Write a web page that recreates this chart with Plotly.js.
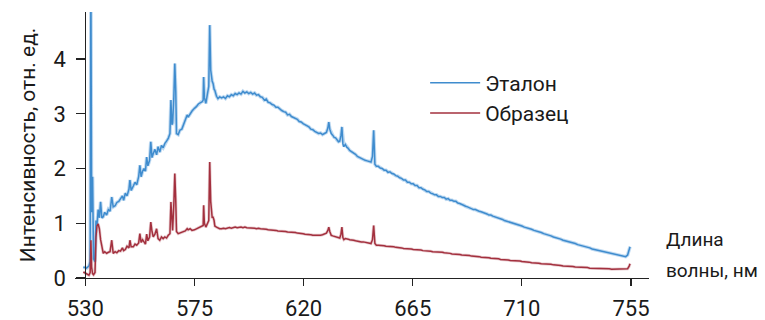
<!DOCTYPE html>
<html>
<head>
<meta charset="utf-8">
<script src="https://cdn.plot.ly/plotly-3.0.1.min.js"></script>
<style>html,body{margin:0;padding:0;background:#fff;}#chart{width:765px;height:320px;}</style>
</head>
<body>
<div id="chart"></div>
<script>
// Wavelength, nm
const wavelength = [
529.2,530.5,531.5,532.0,532.3,532.6,533.0,533.4,534.0,534.4,534.8,535.3,535.8,536.3,536.8,537.4,538.0,538.8,539.5,540.2,
540.9,541.5,542.3,543.0,543.8,544.5,545.3,545.8,546.5,547.2,548.0,548.4,548.9,549.8,550.5,551.2,552.0,552.5,553.0,553.6,
554.2,554.8,555.3,555.8,556.5,557.0,557.5,558.0,558.7,559.4,560.0,560.7,561.4,562.1,562.8,563.5,564.2,564.9,565.3,565.7,
566.0,566.5,566.9,567.3,567.6,568.3,569.0,569.8,570.5,571.2,572.0,572.4,573.2,574.0,575.0,575.8,576.6,577.4,578.2,578.6,
578.8,579.1,579.7,580.3,580.9,581.3,581.7,582.3,582.7,583.1,583.4,584.1,584.7,585.4,
586.2,587.0,587.8,588.6,589.4,590.2,591.0,591.8,592.6,593.4,
594.2,595.0,595.8,596.6,597.4,598.2,599.0,599.8,600.6,601.4,
602.2,603.0,603.8,604.6,605.4,606.2,607.0,607.8,608.6,609.4,
610.2,611.0,611.8,612.6,613.4,614.2,615.0,615.8,616.6,617.4,
618.2,619.0,619.8,620.6,621.4,622.2,623.0,623.8,624.6,625.4,
626.2,627.0,627.8,628.6,629.4,630.0,630.4,630.8,631.4,632.0,
632.6,633.2,633.8,634.4,634.9,635.4,635.8,636.2,636.6,637.2,
637.8,638.4,639.0,639.8,640.6,641.4,642.2,643.0,643.8,644.6,
645.4,646.2,647.0,647.8,648.4,648.9,649.4,650.0,650.8,651.6,
652.4,653.2,654.0,654.8,655.6,656.4,657.2,658.0,658.8,659.6,
660.4,661.2,662.0,662.8,663.6,664.4,665.2,666.0,666.8,667.6,
668.4,669.2,670.0,670.8,671.6,672.4,673.2,674.0,674.8,675.6,
676.4,677.2,678.0,678.8,679.6,680.4,681.2,682.0,682.8,683.6,
684.4,685.2,686.0,686.8,687.6,688.4,689.2,690.0,690.8,691.6,
692.4,693.2,694.0,694.8,695.6,696.4,697.2,698.0,698.8,699.6,
700.4,701.2,702.0,702.8,703.6,704.4,705.2,706.0,706.8,707.6,
708.4,709.2,710.0,711.0,712.0,713.0,714.0,715.0,716.0,717.0,
718.0,719.0,720.0,721.0,722.0,723.0,724.0,725.0,726.0,727.0,
728.0,729.0,730.0,731.0,732.0,733.0,734.0,735.0,736.0,737.0,
738.0,739.0,740.0,741.0,742.0,743.0,744.0,745.0,746.0,747.0,
748.0,749.0,750.0,751.0,752.0,752.8,753.6,754.2,754.6
];
// Эталон (reference)
const etalon = [
0.20,0.18,0.22,0.30,5.50,1.20,1.85,0.35,0.30,1.05,0.95,1.25,1.10,1.39,1.10,1.12,1.20,1.15,1.25,1.22,
1.48,1.30,1.32,1.38,1.40,1.45,1.50,1.42,1.55,1.50,1.62,1.79,1.60,1.68,1.75,1.70,1.85,2.06,1.85,1.95,
2.00,1.95,2.21,2.05,2.15,2.49,2.20,2.27,2.35,2.25,2.40,2.30,2.42,2.38,2.46,2.50,2.55,2.64,3.25,2.80,
2.83,3.30,3.92,3.40,2.64,2.62,2.70,2.72,2.80,2.85,2.98,2.94,3.00,3.05,3.10,3.13,3.18,3.20,3.22,3.25,
3.67,3.30,3.19,3.35,3.50,4.62,3.80,3.60,3.55,3.45,3.43,3.32,3.28,3.31,
3.29,3.31,3.28,3.33,3.31,3.35,3.33,3.37,3.35,3.38,
3.36,3.41,3.38,3.40,3.37,3.39,3.36,3.38,3.34,3.35,
3.31,3.30,3.25,3.27,3.21,3.20,3.17,3.16,3.12,3.12,
3.08,3.06,3.04,3.03,2.98,2.99,2.95,2.93,2.91,2.90,
2.86,2.85,2.82,2.80,2.77,2.76,2.72,2.71,2.68,2.66,
2.64,2.65,2.62,2.64,2.66,2.74,2.85,2.72,2.64,2.61,
2.57,2.56,2.52,2.49,2.50,2.60,2.76,2.45,2.40,2.44,
2.39,2.37,2.33,2.31,2.28,2.26,2.22,2.20,2.18,2.17,
2.15,2.14,2.13,2.12,2.22,2.70,2.08,2.04,2.04,2.01,
2.00,1.97,1.97,1.93,1.94,1.91,1.90,1.87,1.86,1.83,
1.82,1.79,1.79,1.75,1.75,1.72,1.72,1.69,1.69,1.65,
1.65,1.62,1.61,1.58,1.58,1.55,1.54,1.52,1.52,1.49,
1.49,1.47,1.47,1.44,1.45,1.42,1.42,1.40,1.40,1.37,
1.36,1.34,1.33,1.31,1.30,1.28,1.27,1.25,1.25,1.23,
1.22,1.21,1.20,1.18,1.17,1.15,1.15,1.13,1.12,1.10,
1.09,1.08,1.07,1.05,1.04,1.03,1.02,1.00,0.99,0.98,
0.97,0.96,0.95,0.93,0.92,0.90,0.89,0.87,0.86,0.84,
0.83,0.81,0.80,0.78,0.77,0.75,0.74,0.72,0.71,0.69,
0.68,0.66,0.65,0.64,0.63,0.61,0.60,0.59,0.58,0.56,
0.55,0.53,0.52,0.51,0.50,0.49,0.48,0.47,0.47,0.46,
0.45,0.44,0.43,0.42,0.41,0.39,0.42,0.50,0.57
];
// Образец (sample)
const obrazec = [
0.11,0.08,0.05,0.10,0.69,0.20,0.08,0.06,0.10,0.75,0.95,0.99,0.90,0.70,0.55,0.45,0.48,0.45,0.47,0.48,
0.69,0.45,0.48,0.46,0.50,0.49,0.55,0.50,0.52,0.58,0.55,0.69,0.57,0.57,0.62,0.60,0.64,0.81,0.65,0.70,
0.66,0.62,0.80,0.68,0.75,1.02,0.85,0.75,0.80,0.90,0.72,0.69,0.75,0.72,0.75,0.73,0.78,0.81,1.39,0.95,
0.87,1.35,1.91,1.40,0.85,0.81,0.82,0.84,0.85,0.86,0.90,0.88,0.90,0.87,0.88,0.90,0.92,0.93,0.95,0.96,
1.33,1.00,0.93,1.00,1.05,2.12,1.40,1.11,1.11,1.05,0.95,0.93,0.91,0.90,
0.90,0.91,0.90,0.91,0.92,0.91,0.92,0.93,0.92,0.93,
0.93,0.92,0.93,0.92,0.92,0.91,0.92,0.91,0.90,0.91,
0.90,0.90,0.89,0.89,0.88,0.88,0.88,0.87,0.87,0.86,
0.86,0.86,0.85,0.85,0.84,0.84,0.84,0.83,0.83,0.82,
0.82,0.81,0.81,0.80,0.80,0.79,0.79,0.78,0.78,0.77,
0.78,0.78,0.79,0.80,0.82,0.87,0.93,0.85,0.78,0.77,
0.76,0.75,0.74,0.73,0.73,0.80,0.93,0.74,0.70,0.72,
0.72,0.71,0.70,0.70,0.69,0.68,0.67,0.67,0.66,0.66,
0.65,0.64,0.64,0.63,0.70,0.96,0.63,0.60,0.60,0.60,
0.59,0.59,0.58,0.58,0.57,0.57,0.57,0.56,0.56,0.55,
0.55,0.54,0.54,0.54,0.53,0.53,0.52,0.52,0.52,0.51,
0.51,0.50,0.50,0.49,0.49,0.49,0.48,0.48,0.48,0.47,
0.47,0.47,0.46,0.46,0.45,0.45,0.44,0.44,0.44,0.43,
0.43,0.42,0.42,0.42,0.41,0.41,0.40,0.40,0.40,0.39,
0.39,0.38,0.38,0.37,0.37,0.37,0.36,0.36,0.35,0.35,
0.35,0.34,0.34,0.33,0.33,0.33,0.32,0.32,0.32,0.31,
0.31,0.31,0.30,0.30,0.29,0.29,0.28,0.28,0.27,0.27,
0.26,0.26,0.25,0.25,0.25,0.24,0.24,0.23,0.23,0.22,
0.22,0.21,0.21,0.21,0.20,0.20,0.20,0.19,0.19,0.19,
0.18,0.18,0.18,0.18,0.17,0.17,0.17,0.17,0.17,0.16,
0.16,0.16,0.16,0.16,0.16,0.16,0.17,0.21,0.26
];
const xTicks = [530, 575, 620, 665, 710, 755];
const yTicks = [0, 1, 2, 3, 4];
const seriesNames = ['Эталон', 'Образец'];

const FONT = 'Roboto, "Liberation Sans", sans-serif';
const TXT = '#1a1a1a';

const traces = [
  {x: wavelength, y: etalon, type: 'scatter', mode: 'lines', showlegend: false, hoverinfo: 'skip',
   line: {color: 'rgba(110,170,225,0.45)', width: 3.5}},
  {x: wavelength, y: obrazec, type: 'scatter', mode: 'lines', showlegend: false, hoverinfo: 'skip',
   line: {color: 'rgba(190,110,120,0.35)', width: 3}},
  {x: wavelength, y: etalon, type: 'scatter', mode: 'lines', name: seriesNames[0],
   line: {color: '#3f8cce', width: 1.5}},
  {x: wavelength, y: obrazec, type: 'scatter', mode: 'lines', name: seriesNames[1],
   line: {color: '#a3303e', width: 1.5}}
];

const layout = {
  width: 765, height: 320,
  margin: {l: 75, r: 116, t: 12, b: 42},
  paper_bgcolor: '#fff', plot_bgcolor: '#fff',
  font: {family: FONT, color: TXT},
  showlegend: true,
  legend: {x: 0.61, xanchor: 'left', y: 0.81, yanchor: 'top', bgcolor: 'rgba(0,0,0,0)',
           font: {family: FONT, size: 21, color: TXT}, itemwidth: 50, tracegroupgap: 0},
  xaxis: {range: [525.75, 762.42], tickvals: xTicks, ticktext: xTicks.map(String),
          showline: true, linecolor: '#222', linewidth: 1.2, ticks: 'outside', ticklen: 7, tickwidth: 1.2,
          tickcolor: '#222', showgrid: false, zeroline: false,
          tickfont: {family: FONT, size: 22, color: TXT}, ticklabelstandoff: 3},
  yaxis: {range: [0, 4.86], tickvals: yTicks, anchor: 'free', position: 0.0178,
          showline: true, linecolor: '#222', linewidth: 1.2, ticks: 'outside', ticklen: 9, tickwidth: 1.2,
          tickcolor: '#222', showgrid: false, zeroline: false,
          tickfont: {family: FONT, size: 22, color: TXT}, ticklabelstandoff: 6,
          title: {text: 'Интенсивность, отн. ед.', font: {family: FONT, size: 21, color: TXT}, standoff: 10}},
  annotations: [
    {text: 'Длина', xref: 'paper', yref: 'paper', x: 1.027, y: 0.143, xanchor: 'left', yanchor: 'middle',
     showarrow: false, font: {family: FONT, size: 19, color: TXT}},
    {text: 'волны, нм', xref: 'paper', yref: 'paper', x: 1.027, y: 0.03, xanchor: 'left', yanchor: 'middle',
     showarrow: false, font: {family: FONT, size: 19, color: TXT}}
  ]
};

Plotly.newPlot('chart', traces, layout, {staticPlot: true, displayModeBar: false});
</script>
</body>
</html>
